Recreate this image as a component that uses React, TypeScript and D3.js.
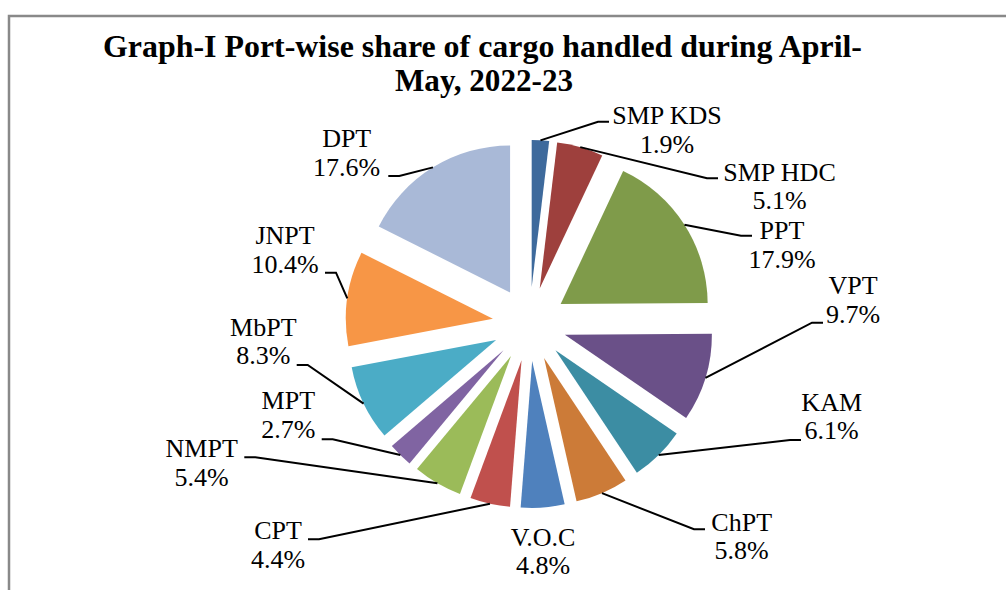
import { useEffect, useRef } from "react";
import * as d3 from "d3";

const ports = ["SMP KDS", "SMP HDC", "PPT", "VPT", "KAM", "ChPT", "V.O.C", "CPT", "NMPT", "MPT", "MbPT", "JNPT", "DPT"];
const shares = [1.9, 5.1, 17.9, 9.7, 6.1, 5.8, 4.8, 4.4, 5.4, 2.7, 8.3, 10.4, 17.6];
const colors = ["#3E6A9C", "#9E403D", "#7F9B4A", "#6A5088", "#3C8DA3", "#CC7B38", "#4F81BD", "#C0504D", "#9BBB59", "#8064A2", "#4BACC6", "#F79646", "#A9B9D7"];

// label layout: text centre x, first line centre y, leader end x, leader end y
const labelPos: (number | null)[][] = [
  [667, 115, 609, 121.7],
  [779.5, 171.7, 718, 178.3],
  [782, 230, 752, 235.7],
  [853, 285, 823, 322.7],
  [831.7, 401.7, 801, 440],
  [741.7, 521.7, 705, 529.3],
  [543, 536.7, null, null],
  [278, 530, 308, 539.3],
  [201.7, 448.3, 244.3, 457.3],
  [288.3, 400, 321.7, 439.3],
  [263.3, 326.7, 296.7, 365],
  [285, 235, 325, 272.7],
  [346.7, 138.3, 388.3, 176],
];

const W = 1006;
const H = 590;

const App = () => {
  const ref = useRef<SVGSVGElement | null>(null);

  useEffect(() => {
    if (!ref.current) return;
    const svg = d3.select(ref.current);
    svg.selectAll("*").remove();

    const cx = 529.5;
    const cy = 324;
    const r = 147;
    const explode = 37;

    const data = ports.map((p, i) => ({ name: p, value: shares[i], color: colors[i] }));
    const pie = d3.pie<any>().sort(null).value(d => d.value).startAngle(0).endAngle(2 * Math.PI);
    const arc = d3.arc<any>().innerRadius(0).outerRadius(r);
    const arcs = pie(data);

    // frame
    svg.append("path")
      .attr("d", `M9,${H} L9,16 L${W},16`)
      .attr("fill", "none")
      .attr("stroke", "#898989")
      .attr("stroke-width", 2.5);

    // title
    const title = svg.append("g")
      .attr("font-family", "'Liberation Serif', 'Times New Roman', serif")
      .attr("font-weight", "bold")
      .attr("font-size", 32)
      .attr("text-anchor", "middle");
    title.append("text").attr("x", 482.5).attr("y", 57)
      .attr("textLength", 759).attr("lengthAdjust", "spacingAndGlyphs")
      .text("Graph-I Port-wise share of cargo handled during April-");
    title.append("text").attr("x", 484).attr("y", 91)
      .attr("textLength", 178).attr("lengthAdjust", "spacingAndGlyphs")
      .text("May, 2022-23");

    const mid = (d: any) => (d.startAngle + d.endAngle) / 2;
    const apex = (d: any) => [cx + explode * Math.sin(mid(d)), cy - explode * Math.cos(mid(d))];

    svg.append("g")
      .selectAll("path")
      .data(arcs)
      .join("path")
      .attr("transform", d => `translate(${apex(d)[0]},${apex(d)[1]})`)
      .attr("d", arc)
      .attr("fill", d => d.data.color);

    // leader lines
    const leaders = svg.append("g").attr("fill", "none").attr("stroke", "#000").attr("stroke-width", 2);
    arcs.forEach((d, i) => {
      const lp = labelPos[i];
      if (lp[2] == null) return;
      const [ax, ay] = apex(d);
      const sx = ax + r * Math.sin(mid(d));
      const sy = ay - r * Math.cos(mid(d));
      const ex = lp[2] as number;
      const ey = lp[3] as number;
      const bx = ex > sx ? ex - 11 : ex + 11;
      leaders.append("path").attr("d", `M${sx},${sy} L${bx},${ey} L${ex},${ey}`);
    });

    // labels
    const labels = svg.append("g")
      .attr("font-family", "'Liberation Serif', 'Times New Roman', serif")
      .attr("font-size", 26)
      .attr("text-anchor", "middle")
      .attr("fill", "#000");
    arcs.forEach((d, i) => {
      const [tx, ty] = labelPos[i] as number[];
      const t = labels.append("text").attr("x", tx).attr("y", ty + 9);
      t.append("tspan").attr("x", tx).text(d.data.name);
      t.append("tspan").attr("x", tx).attr("dy", 28.5).text(`${d.data.value.toFixed(1)}%`);
    });
  }, []);

  return (
    <svg ref={ref} width={W} height={H}
      style={{ position: "absolute", left: 0, top: 0, background: "#fff" }} />
  );
};

export default App;
